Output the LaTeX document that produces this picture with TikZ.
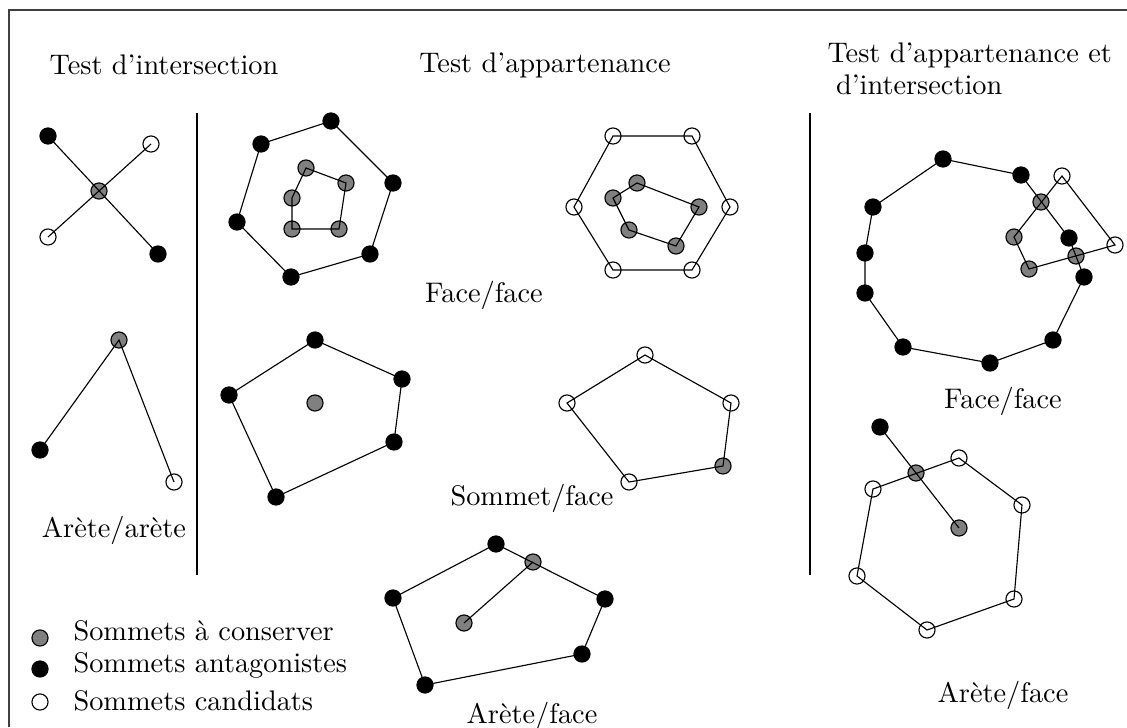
\documentclass[tikz,border=0pt]{standalone}
\usetikzlibrary{positioning}

\begin{document}
\begin{tikzpicture}[
  x=0.0124cm, y=-0.0124cm,
  vtx/.style={circle, draw, line width=0.4pt, inner sep=0pt, minimum size=0.2cm},
  keep/.style={vtx, fill=black!50},
  rival/.style={vtx, fill=black},
  cand/.style={vtx, fill=white},
  seg/.style={line width=0.4pt},
  lbl/.style={inner sep=0pt, anchor=base},
  leg/.style={inner sep=0pt, anchor=base west}
]
  \useasboundingbox (0,0) rectangle (1127,727);
  \draw[seg, black!75] (9,727) -- (9,10) -- (1127,10);

  \node[lbl] (tinter) at (164,74) {Test d'intersection};
  \node[lbl] (tappart) at (545,72) {Test d'appartenance};
  \node[inner sep=0pt, anchor=north west, align=left, font=\fontsize{10}{11.5}\selectfont] (tboth) at (827,42)
    {Test d'appartenance et\\\hspace{3pt}d'intersection};

  \draw[seg] (197,113) -- (197,575);
  \draw[seg] (810,113) -- (810,575);

  \node[rival] (x1) at (48,136) {};
  \node[cand] (x2) at (151,144) {};
  \node[keep] (x3) at (99,191) {};
  \node[cand] (x4) at (48,237) {};
  \node[rival] (x5) at (158,254) {};
  \draw[seg] (x1.center) -- (x5.center);
  \draw[seg] (x2.center) -- (x4.center);

  \node[keep] (a1) at (119,340) {};
  \node[rival] (a2) at (40,450) {};
  \node[cand] (a3) at (174,482) {};
  \draw[seg] (a2.center) -- (a1.center) -- (a3.center);
  \node[lbl] (laa) at (114,537) {Arète/arète};

  \node[rival] (f1) at (261,144) {};
  \node[rival] (f2) at (331,121) {};
  \node[rival] (f3) at (393,183) {};
  \node[rival] (f4) at (370,254) {};
  \node[rival] (f5) at (291,277) {};
  \node[rival] (f6) at (237,222) {};
  \node[keep] (g1) at (306,168) {};
  \node[keep] (g2) at (346,183) {};
  \node[keep] (g3) at (339,229) {};
  \node[keep] (g4) at (292,229) {};
  \node[keep] (g5) at (292,198) {};
  \draw[seg] (f1.center) -- (f2.center) -- (f3.center) -- (f4.center) -- (f5.center) -- (f6.center) -- cycle;
  \draw[seg] (g1.center) -- (g2.center) -- (g3.center) -- (g4.center) -- (g5.center) -- cycle;

  \node[rival] (s1) at (315,340) {};
  \node[rival] (s2) at (402,379) {};
  \node[rival] (s3) at (394,442) {};
  \node[rival] (s4) at (276,497) {};
  \node[rival] (s5) at (229,395) {};
  \node[keep] (s6) at (315,403) {};
  \draw[seg] (s1.center) -- (s2.center) -- (s3.center) -- (s4.center) -- (s5.center) -- cycle;

  \node[cand] (o1) at (613,136) {};
  \node[cand] (o2) at (692,136) {};
  \node[cand] (o3) at (730,207) {};
  \node[cand] (o4) at (692,270) {};
  \node[cand] (o5) at (613,270) {};
  \node[cand] (o6) at (574,207) {};
  \node[keep] (i1) at (637,183) {};
  \node[keep] (i2) at (699,207) {};
  \node[keep] (i3) at (676,246) {};
  \node[keep] (i4) at (629,230) {};
  \node[keep] (i5) at (613,198) {};
  \draw[seg] (o1.center) -- (o2.center) -- (o3.center) -- (o4.center) -- (o5.center) -- (o6.center) -- cycle;
  \draw[seg] (i1.center) -- (i2.center) -- (i3.center) -- (i4.center) -- (i5.center) -- cycle;
  \node[lbl] (lff) at (484,302) {Face/face};

  \node[cand] (v1) at (645,355) {};
  \node[cand] (v2) at (731,403) {};
  \node[keep] (v3) at (723,466) {};
  \node[cand] (v4) at (629,482) {};
  \node[cand] (v5) at (567,403) {};
  \draw[seg] (v1.center) -- (v2.center) -- (v3.center) -- (v4.center) -- (v5.center) -- cycle;
  \node[lbl] (lsf) at (532,505) {Sommet/face};

  \node[rival] (e1) at (496,544) {};
  \node[keep] (e2) at (533,562) {};
  \node[rival] (e3) at (605,599) {};
  \node[rival] (e4) at (582,654) {};
  \node[rival] (e5) at (425,685) {};
  \node[rival] (e6) at (393,598) {};
  \node[keep] (e7) at (464,623) {};
  \draw[seg] (e1.center) -- (e3.center) -- (e4.center) -- (e5.center) -- (e6.center) -- cycle;
  \draw[seg] (e7.center) -- (e2.center);
  \node[lbl] (laf) at (532,723) {Arète/face};

  \node[rival] (b1) at (943,159) {};
  \node[rival] (b2) at (1021,175) {};
  \node[rival] (b3) at (1069,238) {};
  \node[rival] (b4) at (1084,277) {};
  \node[rival] (b5) at (1053,340) {};
  \node[rival] (b6) at (990,363) {};
  \node[rival] (b7) at (903,347) {};
  \node[rival] (b8) at (865,293) {};
  \node[rival] (b9) at (865,253) {};
  \node[rival] (b10) at (873,207) {};
  \node[cand] (q1) at (1062,176) {};
  \node[cand] (q2) at (1115,245) {};
  \node[keep] (q3) at (1029,269) {};
  \node[keep] (q4) at (1014,237) {};
  \node[keep] (c1) at (1041,202) {};
  \node[keep] (c2) at (1076,256) {};
  \draw[seg] (b1.center) -- (b2.center) -- (b3.center) -- (b4.center) -- (b5.center) -- (b6.center)
    -- (b7.center) -- (b8.center) -- (b9.center) -- (b10.center) -- cycle;
  \draw[seg] (q1.center) -- (q2.center) -- (q3.center) -- (q4.center) -- cycle;
  \node[lbl] (lff2) at (1003,408) {Face/face};

  \node[rival] (r1) at (880,427) {};
  \node[keep] (r2) at (916,473) {};
  \node[keep] (r3) at (959,528) {};
  \node[cand] (h1) at (959,458) {};
  \node[cand] (h2) at (1022,505) {};
  \node[cand] (h3) at (1014,599) {};
  \node[cand] (h4) at (927,630) {};
  \node[cand] (h5) at (857,576) {};
  \node[cand] (h6) at (873,489) {};
  \draw[seg] (h1.center) -- (h2.center) -- (h3.center) -- (h4.center) -- (h5.center) -- (h6.center) -- cycle;
  \draw[seg] (r1.center) -- (r3.center);
  \node[lbl] (laf2) at (1003,702) {Arète/face};

  \node[keep] (l1) at (40,638) {};
  \node[rival] (l2) at (40,669) {};
  \node[cand] (l3) at (40,702) {};
  \node[leg] (tl1) at (73,640) {Sommets à conserver};
  \node[leg] (tl2) at (73,672) {Sommets antagonistes};
  \node[leg] (tl3) at (73,710) {Sommets candidats};
\end{tikzpicture}
\end{document}
